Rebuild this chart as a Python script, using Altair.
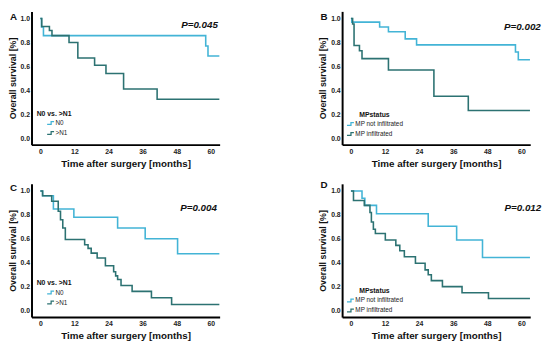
import altair as alt
import pandas as pd

FONT = "Liberation Sans"
LIGHT = "#43b4d6"
DARK = "#2c7272"
STEP = "M-1,0.4L0.15,0.4L0.15,-0.4L1,-0.4"

# ---- Panel A : N0 vs. >N1 ----
a_n0_t = [0, 0.4, 1.1, 58.2, 59.0, 63]
a_n0_s = [1.0, 0.929, 0.857, 0.771, 0.686, 0.686]
a_n1_t = [0, 0.5, 3.2, 4.1, 10.1, 13.2, 19.1, 23.1, 29.3, 41.1, 63]
a_n1_s = [1.0, 0.933, 0.90, 0.857, 0.80, 0.67, 0.61, 0.54, 0.41, 0.325, 0.325]

# ---- Panel B : MP status ----
b_not_t = [0, 0.3, 10.1, 13.2, 19.1, 23.1, 57.9, 58.9, 63]
b_not_s = [1.0, 0.97, 0.93, 0.89, 0.83, 0.78, 0.72, 0.656, 0.656]
b_inf_t = [0, 0.6, 1.1, 3.0, 3.9, 13.2, 29.2, 41.3, 63]
b_inf_s = [1.0, 0.955, 0.775, 0.73, 0.665, 0.57, 0.35, 0.23, 0.23]

# ---- Panel C : N0 vs. >N1 ----
c_n0_t = [0, 0.8, 4.6, 11.8, 27.2, 36.9, 48.3, 63]
c_n0_s = [1.0, 0.96, 0.85, 0.78, 0.69, 0.60, 0.475, 0.475]
c_n1_t = [0, 0.8, 4.0, 6.3, 7.1, 7.9, 8.8, 15.6, 16.8, 17.9, 20.0, 22.9,
          25.8, 26.5, 27.2, 28.4, 32.3, 39.1, 46.2, 63]
c_n1_s = [1.0, 0.96, 0.915, 0.83, 0.76, 0.69, 0.595, 0.55, 0.52, 0.48, 0.44, 0.375,
          0.325, 0.29, 0.26, 0.21, 0.16, 0.107, 0.05, 0.05]

# ---- Panel D : MP status ----
d_not_t = [0, 3.9, 4.9, 9.0, 27.2, 37.2, 46.3, 63]
d_not_s = [1.0, 0.94, 0.88, 0.81, 0.705, 0.59, 0.443, 0.443]
d_inf_t = [0, 0.9, 4.7, 6.7, 7.2, 7.9, 8.6, 12.1, 15.8, 17.2, 18.8, 22.7,
           26.1, 27.2, 28.3, 32.2, 39.1, 48.4, 63]
d_inf_s = [1.0, 0.92, 0.88, 0.82, 0.74, 0.68, 0.645, 0.59, 0.545, 0.50, 0.45, 0.395,
           0.34, 0.30, 0.25, 0.20, 0.148, 0.10, 0.10]

x_ticks = [0, 12, 24, 36, 48, 60]
y_ticks = [0.0, 0.2, 0.4, 0.6, 0.8, 1.0]


def panel(series, legend_title, pval, letter, p_xy, letter_y, leg_xy, sym_off):
    rows = []
    order = 0
    for name, ts, ss in series:
        for t, s in zip(ts, ss):
            rows.append({"group": name, "t": t, "s": s, "o": order})
            order += 1
    df = pd.DataFrame(rows)
    names = [s[0] for s in series]
    lines = alt.Chart(df).mark_line(interpolate="step-after", strokeWidth=1.6).encode(
        x=alt.X("t:Q", scale=alt.Scale(domain=[-3.1, 63.1], nice=False, zero=False),
                axis=alt.Axis(values=x_ticks, title="Time after surgery [months]",
                              titleFontSize=10, labelPadding=3, titlePadding=4)),
        y=alt.Y("s:Q", scale=alt.Scale(domain=[-0.055, 1.06], nice=False, zero=False),
                axis=alt.Axis(values=y_ticks, format=".1f", title="Overall survival [%]",
                              titleFontSize=9, labelPadding=2, titlePadding=3)),
        color=alt.Color("group:N", scale=alt.Scale(domain=names, range=[LIGHT, DARK]),
                        legend=alt.Legend(orient="none", legendX=leg_xy[0], legendY=leg_xy[1],
                                          title=legend_title, titleFont=FONT, titleFontSize=7,
                                          titleFontWeight="bold", titleColor="#111",
                                          titleAnchor="middle", titlePadding=2,
                                          labelFont=FONT, labelFontSize=6.5, labelColor="#222",
                                          labelOffset=0.5, symbolType=STEP, symbolSize=50,
                                          symbolStrokeWidth=1.3, symbolFillColor="transparent",
                                          rowPadding=1.2, padding=0, symbolOffset=sym_off)),
        order="o:Q",
    )
    ptxt = alt.Chart(pd.DataFrame({"p": [pval]})).mark_text(
        font=FONT, fontSize=10, fontWeight="bold", fontStyle="italic",
        align="center", baseline="middle", color="#111"
    ).encode(text="p:N", x=alt.value(p_xy[0]), y=alt.value(p_xy[1]))
    ltxt = alt.Chart(pd.DataFrame({"l": [letter]})).mark_text(
        font=FONT, fontSize=10, fontWeight="bold", align="left", baseline="middle", color="#111"
    ).encode(text="l:N", x=alt.value(-22), y=alt.value(letter_y))
    return alt.layer(lines, ptxt, ltxt).properties(width=192, height=136)


A = panel([("N0", a_n0_t, a_n0_s), (">N1", a_n1_t, a_n1_s)], "N0 vs. >N1", "P=0.045", "A",
          (171.5, 14), 6, (5, 100.5), 6)
B = panel([("MP not infiltrated", b_not_t, b_not_s), ("MP infiltrated", b_inf_t, b_inf_s)],
          "MPstatus", "P=0.002", "B", (184, 15.5), 6, (4, 101.5), 0)
C = panel([("N0", c_n0_t, c_n0_s), (">N1", c_n1_t, c_n1_s)], "N0 vs. >N1", "P=0.004", "C",
          (170.5, 24.3), 4, (5, 97.5), 6)
D = panel([("MP not infiltrated", d_not_t, d_not_s), ("MP infiltrated", d_inf_t, d_inf_s)],
          "MPstatus", "P=0.012", "D", (184.5, 24.8), 1, (4, 105.5), 0)

chart = alt.concat(A, B, C, D, columns=2, spacing={"row": 12, "column": 98}).resolve_scale(
    color="independent").resolve_legend(color="independent").configure_axis(
    domainColor="black", domainWidth=2, ticks=False, grid=False,
    labelFont=FONT, labelFontSize=7, labelFontWeight="bold", labelColor="#222",
    titleFont=FONT, titleFontWeight="bold", titleColor="#111"
).configure_view(stroke=None).properties(padding=0, background="white")

chart.save("out.html", embed_options={"renderer": "svg", "actions": False})
